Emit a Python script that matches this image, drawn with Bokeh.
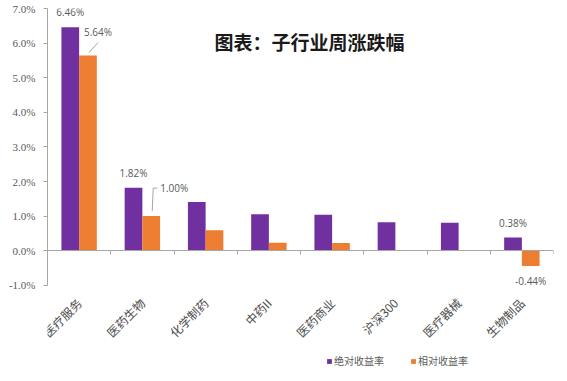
from bokeh.plotting import figure
from bokeh.models import (ColumnDataSource, FixedTicker, PrintfTickFormatter, LinearAxis,
                          Range1d, Label, LabelSet, Legend, LegendItem)
from bokeh.core.properties import value
from bokeh.embed import file_html
from bokeh.resources import INLINE
import math

categories = ["医疗服务", "医药生物", "化学制药", "中药II", "医药商业", "沪深300", "医疗器械", "生物制品"]
abs_ret = [6.46, 1.82, 1.41, 1.05, 1.04, 0.82, 0.81, 0.38]
rel_ret = [5.64, 1.00, 0.59, 0.23, 0.22, 0.0, -0.01, -0.44]
abs_text = ["6.46%", "1.82%", "", "", "", "", "", "0.38%"]
rel_text = ["", "", "", "", "", "", "", "-0.44%"]
rel_callout_text = ["5.64%", "1.00%"]
y_ticks = [-1, 0, 1, 2, 3, 4, 5, 6, 7]
series_names = ["绝对收益率", "相对收益率"]
title_text = "图表：子行业周涨跌幅"

PURPLE = "#7030A0"
ORANGE = "#ED7D31"
FW, FH = 506, 360
ML, MT, MR = 47, 8, 2
PX_PER_UNIT = 34.6
Y_MIN, Y_MAX = -1, 7

n = len(categories)
x_center = [i + 0.5 for i in range(n)]
bw = 0.28
x_abs = [c - bw / 2 for c in x_center]
x_rel = [c + bw / 2 for c in x_center]
y_start = Y_MAX - FH / PX_PER_UNIT

p = figure(frame_width=FW, frame_height=FH, output_backend="svg", toolbar_location=None,
           x_range=Range1d(0, n), y_range=Range1d(y_start, Y_MAX),
           min_border_left=ML, min_border_top=MT, min_border_right=MR, min_border_bottom=0,
           x_axis_location=None, y_axis_location=None)
p.outline_line_color = None
p.xgrid.visible = False
p.ygrid.visible = False
p.background_fill_color = "white"
p.border_fill_color = "white"

px_x = n / FW
px_y = 1 / PX_PER_UNIT

src = ColumnDataSource(dict(xa=x_abs, xr=x_rel, a=abs_ret, r=rel_ret))
ra = p.vbar(x="xa", top="a", bottom=0, width=bw, source=src, fill_color=PURPLE, line_color=None)
rr = p.vbar(x="xr", top="r", bottom=0, width=bw, source=src, fill_color=ORANGE, line_color=None)

# y axis (line limited to -1 .. 7)
yax = LinearAxis(ticker=FixedTicker(ticks=y_ticks), formatter=PrintfTickFormatter(format="%.1f%%"),
                 bounds=(Y_MIN, Y_MAX))
yax.axis_line_color = "#A6A6A6"
yax.major_tick_line_color = "#A6A6A6"
yax.major_tick_out = 4
yax.major_tick_in = 0
yax.minor_tick_line_color = None
yax.major_label_text_font = "Liberation Serif"
yax.major_label_text_font_size = "11px"
yax.major_label_text_color = "#595959"
yax.major_label_standoff = 8
p.add_layout(yax, "left")

# zero axis with boundary ticks (drawn at y = 0)
zax = LinearAxis(ticker=FixedTicker(ticks=list(range(1, n + 1))), fixed_location=0)
zax.axis_line_color = "#A6A6A6"
zax.major_tick_line_color = "#A6A6A6"
zax.major_tick_out = 4
zax.major_tick_in = 0
zax.minor_tick_line_color = None
zax.major_label_text_font_size = "1px"
zax.major_label_text_alpha = 0
zax.major_label_standoff = 0
p.add_layout(zax, "below")

# category labels, rotated, just below the -1% level
cat_src = ColumnDataSource(dict(x=x_center, y=[Y_MIN] * n, t=categories))
p.add_layout(LabelSet(x="x", y="y", text="t", source=cat_src, angle=math.pi / 4,
                      x_offset=0, y_offset=-15, text_align="right", text_baseline="middle",
                      text_font=value("Noto Sans CJK SC"), text_font_size="12px",
                      text_color="#4d4d4d"))

# data labels
lab_font = "Open Sans"
pos_src = ColumnDataSource(dict(x=x_abs, y=abs_ret, t=abs_text))
p.add_layout(LabelSet(x="x", y="y", text="t", source=pos_src, y_offset=8, text_align="center",
                      text_baseline="bottom", text_font=value(lab_font), text_font_size="10px",
                      text_color="#595959"))
neg_src = ColumnDataSource(dict(x=x_rel, y=rel_ret, t=rel_text))
p.add_layout(LabelSet(x="x", y="y", text="t", source=neg_src, y_offset=-8, text_align="center",
                      text_baseline="top", text_font=value(lab_font), text_font_size="10px",
                      text_color="#595959"))

# callouts with leader lines for 5.64% and 1.00%
offsets = [(10, 24), (23, 28)]
leaders = [[(10, 13), (1, 3)], [(6, 28), (2, 28), (1, 5)]]
for k, (dx, dy) in enumerate(offsets):
    bx, by = x_rel[k], rel_ret[k]
    p.add_layout(Label(x=bx, y=by, x_offset=dx, y_offset=dy, text=rel_callout_text[k],
                       text_align="center", text_baseline="middle", text_font=lab_font,
                       text_font_size="10px", text_color="#595959"))
    xs = [bx + ox * px_x for ox, oy in leaders[k]]
    ys = [by + oy * px_y for ox, oy in leaders[k]]
    p.line(xs, ys, line_color="#A6A6A6", line_width=1)

# title
p.add_layout(Label(x=262, y=FH - 33, x_units="screen", y_units="screen", text=title_text,
                   text_align="center", text_baseline="middle",
                   text_font="Noto Sans CJK SC", text_font_style="bold",
                   text_font_size="19px", text_color="#1a1a1a"))

# legend
legend = Legend(items=[LegendItem(label=series_names[0], renderers=[ra]),
                       LegendItem(label=series_names[1], renderers=[rr])],
                location=(279, 0), orientation="horizontal",
                glyph_width=6, glyph_height=6, label_standoff=2, spacing=26,
                padding=0, margin=0, border_line_color=None, background_fill_alpha=0,
                label_text_font="Noto Sans CJK SC", label_text_font_size="10px",
                label_text_color="#595959", label_height=12)
p.add_layout(legend, "center")

open("out.html", "w").write(file_html(p, INLINE))
